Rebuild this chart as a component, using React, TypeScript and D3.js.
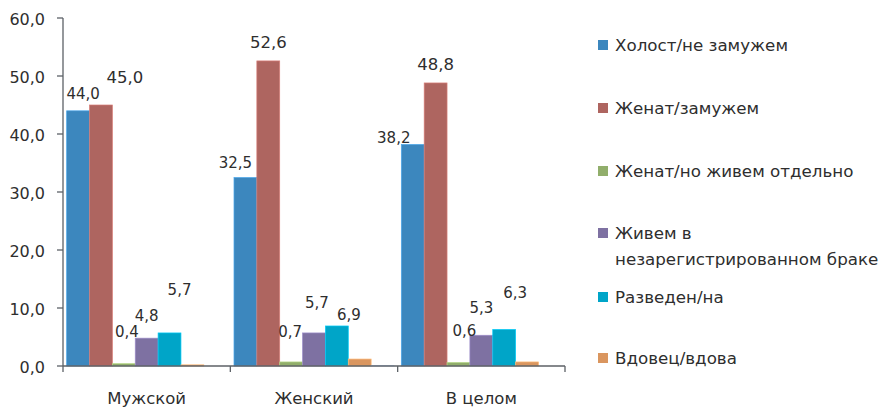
import React from "react";
import * as d3 from "d3";

const categories = ["Мужской", "Женский", "В целом"];
const seriesNames = [
  "Холост/не замужем",
  "Женат/замужем",
  "Женат/но живем отдельно",
  "Живем в незарегистрированном браке",
  "Разведен/на",
  "Вдовец/вдова",
  "",
];
const single = [44.0, 32.5, 38.2];
const married = [45.0, 52.6, 48.8];
const separated = [0.4, 0.7, 0.6];
const cohabiting = [4.8, 5.7, 5.3];
const divorced = [5.7, 6.9, 6.3];
const widowed = [0.2, 1.2, 0.7];
const other = [0, 0.1, 0];
const seriesValues = [single, married, separated, cohabiting, divorced, widowed, other];
const labeledSeries = [0, 1, 2, 3, 4];
const yTicks = [0, 10, 20, 30, 40, 50, 60];

// styling
const colors = ["#3c87be", "#ae6560", "#91ae6b", "#7e71a2", "#00a5c8", "#da965f", "#9db1cc"];
const legendLines = [
  ["Холост/не замужем"],
  ["Женат/замужем"],
  ["Женат/но живем отдельно"],
  ["Живем в", "незарегистрированном браке"],
  ["Разведен/на"],
  ["Вдовец/вдова"],
];
const legendY = [45, 108, 171, 233, 297, 358];
// label offsets [series][category] -> [dx, dy(baseline relative to bar top), fontSize]
const labelOffsets: [number, number, number][][] = [
  [[5, -12, 15], [-10, -10, 15], [-19, -1.5, 15]],
  [[24, -22, 16.5], [0, -13, 16.5], [0, -13, 16.5]],
  [[3, -27, 15], [-1, -25, 15], [6, -27, 15]],
  [[0, -17, 15], [3, -25, 15], [0, -22, 15]],
  [[10, -38, 15], [12, -6, 15], [11, -31, 15]],
];

const FONT = "'DejaVu Sans', sans-serif";
const TEXT = "#2e2e2e";
const AXIS = "#5c6166";

export default function App() {
  const W = 881, H = 409;
  const x0 = 63, x1 = 565, yTop = 18, yBase = 366;
  const y = d3.scaleLinear().domain([0, 60]).range([yBase, yTop]);
  const xg = d3.scaleBand().domain(categories).range([x0, x1]).paddingInner(0).paddingOuter(0);
  const xs = d3
    .scaleBand<number>()
    .domain(d3.range(seriesValues.length))
    .range([0, xg.bandwidth()])
    .paddingInner(0)
    .paddingOuter(0.16);
  const fmt = (v: number) => v.toFixed(1).replace(".", ",");
  const bounds = [...categories.map((c) => xg(c) as number), x1];

  return (
    <svg width={W} height={H} style={{ position: "absolute", left: 0, top: 0, background: "#fff" }} fontFamily={FONT}>
      {/* bars */}
      {seriesValues.map((vals, si) =>
        vals.map((v, ci) => {
          const bx = (xg(categories[ci]) as number) + (xs(si) as number);
          const top = y(v);
          if (v <= 0) return null;
          return (
            <rect
              key={`b${si}-${ci}`}
              x={bx}
              y={top}
              width={xs.bandwidth()}
              height={yBase - top}
              fill={colors[si]}
              stroke={d3.color(colors[si])!.brighter(0.6).formatHex()}
              strokeWidth={0.7}
            />
          );
        })
      )}
      {/* y axis */}
      <line x1={x0} x2={x0} y1={yTop} y2={yBase} stroke={AXIS} strokeWidth={1.3} />
      {yTicks.map((t) => (
        <g key={`yt${t}`}>
          <line x1={x0 - 6} x2={x0} y1={y(t)} y2={y(t)} stroke={AXIS} strokeWidth={1.3} />
          <text x={45} y={y(t) + 6.5} textAnchor="end" fontSize={16} fill={TEXT}>
            {fmt(t)}
          </text>
        </g>
      ))}
      {/* x axis */}
      <line x1={x0} x2={x1} y1={yBase} y2={yBase} stroke={AXIS} strokeWidth={1.3} />
      {bounds.map((b, i) => (
        <line key={`xt${i}`} x1={b} x2={b} y1={yBase} y2={yBase + 6} stroke={AXIS} strokeWidth={1.3} />
      ))}
      {categories.map((c) => (
        <text
          key={`xl${c}`}
          x={(xg(c) as number) + xg.bandwidth() / 2}
          y={403.5}
          textAnchor="middle"
          fontSize={16.5}
          fill={TEXT}
        >
          {c}
        </text>
      ))}
      {/* data labels */}
      {labeledSeries.map((si) =>
        seriesValues[si].map((v, ci) => {
          const [dx, dy, fs] = labelOffsets[si][ci];
          const cx = (xg(categories[ci]) as number) + (xs(si) as number) + xs.bandwidth() / 2;
          return (
            <text key={`l${si}-${ci}`} x={cx + dx} y={y(v) + dy} textAnchor="middle" fontSize={fs} fill={TEXT}>
              {fmt(v)}
            </text>
          );
        })
      )}
      {/* legend */}
      {legendLines.map((lines, i) => (
        <g key={`lg${i}`}>
          <rect x={598} y={legendY[i] - 5} width={10} height={10} fill={colors[i]} />
          {lines.map((ln, k) => (
            <text key={k} x={615} y={legendY[i] + 6 + k * 26} fontSize={16.7} fill={TEXT}>
              {ln}
            </text>
          ))}
        </g>
      ))}
    </svg>
  );
}
